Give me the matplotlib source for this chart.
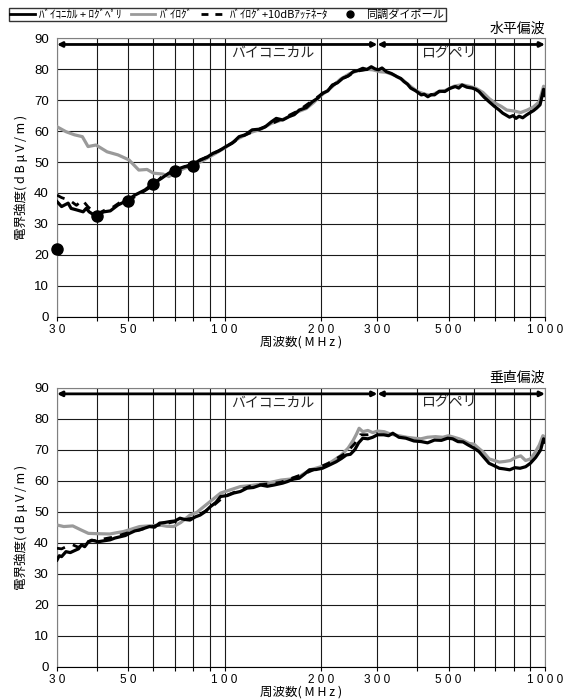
"""
電界強度の周波数特性グラフ (水平偏波 / 垂直偏波)
"""

import matplotlib

matplotlib.use("Agg")
import matplotlib.pyplot as plt
from matplotlib.lines import Line2D

plt.rcParams["font.family"] = ["Liberation Sans", "Noto Sans CJK JP", "DejaVu Sans"]

# ---- データ ----
# 水平偏波: バイコニカル + ログペリ
h_bl_f = [30, 31, 32.5, 33.2, 34.6, 36.2, 37, 37.8, 39.5, 42, 44, 46.5, 49.5, 52.5,
          56.5, 60, 63.5, 67, 70, 75, 79, 84, 88, 92, 96, 101, 106, 111, 116, 122,
          128, 134, 140, 145, 152, 159, 165, 171, 180, 188, 195, 202, 210, 217, 225,
          234, 243, 252, 261, 270, 278, 287, 295, 302, 310, 320, 332, 345, 355, 363,
          372, 381, 395, 411, 420, 431, 441, 452, 468, 487, 505, 525, 538, 551, 570,
          593, 607, 622, 645, 669, 695, 720, 738, 755, 775, 795, 812, 830, 852, 875,
          900, 920, 941, 965, 975, 990, 1000]
h_bl_v = [37.2, 35.6, 36.7, 35.0, 34.5, 33.9, 35.0, 33.9, 32.6, 33.9, 34.2, 36.1, 37.5,
          39.3, 41.0, 43.1, 44.7, 46.4, 47.4, 48.5, 49.0, 50.7, 51.5, 52.8, 53.6, 55.0,
          56.2, 58.2, 58.8, 60.4, 60.6, 61.4, 63.0, 64.1, 63.6, 64.7, 65.3, 66.8, 67.6,
          69.5, 70.6, 72.2, 73.0, 74.9, 75.6, 77.1, 77.8, 79.2, 79.6, 80.3, 79.9, 80.8,
          80.1, 79.8, 80.4, 79.2, 78.6, 77.6, 77.0, 76.0, 75.2, 73.9, 73.0, 71.7, 71.9,
          71.1, 71.8, 71.7, 72.9, 72.8, 73.8, 74.4, 73.9, 74.9, 74.2, 73.9, 73.5, 72.8,
          71.0, 69.5, 68.0, 66.8, 65.8, 65.2, 64.5, 65.0, 64.1, 64.8, 64.3, 65.2, 66.0,
          66.6, 67.4, 68.5, 70.5, 73.5, 71.5]

# 水平偏波: バイログ
h_gr_f = [30, 32, 34, 36, 37.5, 39.7, 43, 46.5, 50.3, 54, 57.3, 60, 64.3, 67, 70, 75,
          80, 85, 92, 100, 110, 120, 130, 140, 150, 160, 170, 180, 190, 200, 215, 230,
          245, 260, 275, 290, 305, 320, 340, 360, 380, 400, 420, 440, 460, 490, 520,
          550, 580, 610, 640, 670, 700, 730, 760, 800, 840, 880, 920, 960, 990, 1000]
h_gr_v = [61.4, 59.8, 58.8, 58.2, 55.0, 55.5, 53.3, 52.3, 50.7, 47.4, 47.6, 46.4, 46.1,
          45.3, 46.5, 48.0, 48.8, 50.3, 52.3, 54.5, 57.5, 59.5, 60.6, 62.5, 63.5, 64.8,
          66.3, 67.3, 69.3, 71.5, 74.0, 76.8, 78.5, 79.5, 80.0, 79.8, 79.2, 79.0, 78.0,
          76.5, 74.5, 72.8, 72.0, 71.5, 72.5, 73.2, 74.5, 75.0, 74.5, 73.8, 72.5, 70.5,
          69.0, 68.0, 66.8, 66.5, 66.0, 66.8, 67.8, 69.5, 74.5, 74.0]

# 水平偏波: バイログ+10dBアッテネータ
h_da_f = [30, 31, 33, 34.5, 36, 37.5, 39, 40.5, 43, 45, 48, 52, 56, 60, 64, 68, 72, 77,
          82, 90, 100, 115, 130, 150, 170, 200, 230, 260, 290]
h_da_v = [39.3, 38.5, 37.5, 36.0, 37.7, 35.5, 34.0, 33.5, 34.8, 35.5, 37.5, 38.5, 40.5,
          42.5, 45.5, 46.5, 47.8, 48.8, 50.0, 52.2, 54.6, 58.6, 60.8, 63.8, 66.6, 71.8,
          76.6, 79.4, 80.2]

# 水平偏波: 同調ダイポール
h_dp_f = [30, 40, 50, 60, 70, 80]
h_dp_v = [22.0, 32.5, 37.5, 43.0, 47.0, 48.6]

# 垂直偏波: バイコニカル + ログペリ
v_bl_f = [30, 30.5, 31, 32, 33, 34.3, 35, 35.8, 36.6, 37.6, 38.5, 40.3, 42, 43.9, 45.5,
          47.2, 49, 50.5, 52.5, 54.3, 56, 58.3, 60.5, 62.7, 65, 67.5, 70, 72.6, 75, 78,
          81, 83.9, 87, 90.3, 94, 97.2, 102, 106.7, 112, 117.6, 123, 129.5, 136, 142.7,
          151.7, 157, 164, 171, 178, 184, 193, 202, 212, 223, 232, 240, 247, 255, 262,
          270, 280, 290, 300, 314, 325, 335, 350, 368, 390, 411, 430, 452, 475, 497,
          515, 535, 555, 576, 600, 622, 645, 669, 695, 720, 745, 776, 805, 836, 870,
          900, 935, 969, 990, 1000]
v_bl_v = [34.4, 35.8, 35.5, 37.1, 36.8, 37.6, 38.0, 39.3, 38.7, 40.3, 40.8, 40.3, 40.6,
          40.9, 41.5, 41.9, 42.3, 43.0, 43.8, 44.1, 44.6, 45.2, 45.0, 46.3, 46.5, 46.8,
          47.0, 47.9, 47.5, 47.3, 48.3, 48.9, 50.0, 51.6, 53.0, 54.9, 55.2, 56.0, 56.5,
          57.6, 57.8, 58.6, 58.2, 58.6, 59.2, 59.7, 60.5, 60.8, 62.2, 63.5, 63.6, 64.0,
          65.0, 66.1, 67.2, 68.3, 68.5, 70.0, 72.2, 73.7, 73.5, 74.0, 74.8, 74.8, 74.5,
          75.3, 74.0, 73.7, 72.8, 72.6, 72.2, 73.1, 73.0, 73.7, 73.5, 72.6, 72.5, 71.5,
          70.5, 69.4, 67.5, 65.6, 64.8, 64.0, 63.8, 63.5, 64.2, 64.0, 64.5, 65.6, 67.5,
          69.9, 73.5, 72.5]

# 垂直偏波: バイログ
v_gr_f = [30, 31.5, 33.6, 35.5, 37.6, 40, 43.9, 46, 48.4, 51, 54.3, 58, 62.7, 66, 69.4,
          73, 78, 82, 86.1, 92, 97.2, 104, 112, 120, 128, 136, 150, 160, 172, 185, 200,
          215, 230, 243, 252, 258, 263, 270, 280, 290, 300, 315, 330, 350, 370, 390, 410,
          430, 455, 480, 500, 520, 540, 560, 580, 600, 620, 645, 670, 695, 720, 750, 780,
          810, 840, 870, 900, 930, 960, 985, 1000]
v_gr_v = [45.7, 45.2, 45.4, 44.2, 43.0, 42.9, 42.8, 43.2, 43.6, 44.3, 45.2, 45.4, 45.7,
          45.3, 45.2, 46.5, 48.9, 49.8, 51.6, 54.0, 56.0, 57.0, 58.1, 58.4, 58.8, 59.2,
          60.2, 60.5, 61.5, 63.5, 64.5, 66.0, 68.0, 70.5, 73.0, 75.0, 76.9, 75.8, 76.2,
          75.5, 76.0, 75.8, 75.0, 74.5, 74.0, 73.7, 73.5, 74.0, 74.2, 74.0, 74.5, 74.0,
          73.5, 72.8, 72.0, 71.8, 70.5, 69.0, 67.0, 66.5, 66.0, 66.2, 66.5, 67.5, 68.0,
          66.5, 67.0, 69.0, 71.5, 74.5, 74.0]

# 垂直偏波: バイログ+10dBアッテネータ
v_da_f = [30, 31, 32.5, 33.6, 35, 36.5, 38, 40, 45, 50, 60, 70, 80, 90, 100, 120, 150,
          180, 210, 240, 255, 265, 280, 300]
v_da_v = [38.2, 38.0, 39.0, 39.3, 38.5, 39.8, 40.5, 40.8, 41.8, 43.2, 45.3, 46.8, 48.0,
          51.0, 55.0, 58.2, 59.5, 62.5, 65.5, 69.0, 72.0, 74.8, 74.8, 75.2]

panels = [
    ("水平偏波", h_bl_f, h_bl_v, h_gr_f, h_gr_v, h_da_f, h_da_v, h_dp_f, h_dp_v),
    ("垂直偏波", v_bl_f, v_bl_v, v_gr_f, v_gr_v, v_da_f, v_da_v, None, None),
]

grid_ticks = [30, 40, 50, 60, 70, 80, 90, 100, 200, 300, 400, 500, 600, 700, 800, 900, 1000]
tick_text = {30: "3 0", 50: "5 0", 100: "1 0 0", 200: "2 0 0", 300: "3 0 0",
             500: "5 0 0", 1000: "1 0 0 0"}
y_ticks = [0, 10, 20, 30, 40, 50, 60, 70, 80, 90]

fig = plt.figure(figsize=(5.66, 7.0), dpi=100)
axes_pos = [[0.1007, 0.5476, 0.8622, 0.3977], [0.1007, 0.0476, 0.8622, 0.3986]]

for pos, (title, bf, bv, gf, gv, df, dv, pf, pv) in zip(axes_pos, panels):
    ax = fig.add_axes(pos)
    ax.set_xscale("log")
    ax.set_xlim(30, 1000)
    ax.set_ylim(0, 90)

    ax.plot(gf, gv, color="#9a9a9a", linewidth=2.3, zorder=3)
    ax.plot(bf, bv, color="black", linewidth=2.3, zorder=4)
    ax.plot(df, dv, color="black", linewidth=2.0, linestyle=(0, (3, 3)), zorder=5)
    if pf is not None:
        ax.plot(pf, pv, "o", color="black", markersize=8, zorder=6, clip_on=False)

    # 周波数範囲の矢印
    ax.annotate("", xy=(30, 88), xytext=(300, 88),
                arrowprops=dict(arrowstyle="<|-|>", lw=2, color="black",
                                mutation_scale=7, shrinkA=0, shrinkB=0))
    ax.annotate("", xy=(300, 88), xytext=(1000, 88),
                arrowprops=dict(arrowstyle="<|-|>", lw=2, color="black",
                                mutation_scale=7, shrinkA=0, shrinkB=0))
    ax.text(141, 85.3, "バイコニカル", ha="center", va="center", fontsize=10,
            family=["Noto Sans CJK JP"], color="#222222")
    ax.text(500, 85.3, "ログペリ", ha="center", va="center", fontsize=10,
            family=["Noto Sans CJK JP"], color="#222222")

    ax.set_xticks(grid_ticks)
    ax.set_xticklabels([tick_text.get(t, "") for t in grid_ticks], fontsize=8.5)
    ax.minorticks_off()
    ax.set_yticks(y_ticks)
    ax.tick_params(axis="y", length=0, labelsize=9.5, pad=6)
    ax.tick_params(axis="x", length=3, direction="out", pad=2)
    ax.grid(True, color="#1a1a1a", linewidth=0.8)
    ax.set_axisbelow(True)

    for side in ("left", "right", "top"):
        ax.spines[side].set_color("#808080")
    ax.spines["bottom"].set_color("black")

    ax.set_ylabel("電界強度( d B μ V / m )", fontsize=9, labelpad=4,
                  family=["Noto Sans CJK JP"])
    ax.set_xlabel("周波数( M H z )", fontsize=9, labelpad=0,
                  family=["Noto Sans CJK JP"])
    ax.text(1.0, 1.01, title, transform=ax.transAxes, ha="right", va="bottom",
            fontsize=10, family=["Noto Sans CJK JP"])

# 凡例
handles = [
    Line2D([], [], color="black", linewidth=2),
    Line2D([], [], color="#9a9a9a", linewidth=2),
    Line2D([], [], color="black", linewidth=2, linestyle=(0, (2.5, 2.5))),
    Line2D([], [], color="black", marker="o", linestyle="none", markersize=5),
]
labels = ["ﾊﾞｲｺﾆｶﾙ + ﾛｸﾞﾍﾟﾘ", "ﾊﾞｲﾛｸﾞ", "ﾊﾞｲﾛｸﾞ+10dBｱｯﾃﾈｰﾀ", "同調ダイポール"]
fig.legend(handles, labels, loc="upper left", bbox_to_anchor=(3 / 566, 1 - 2 / 700),
           ncol=4, frameon=True, fancybox=False, edgecolor="black",
           handlelength=2.2, handletextpad=0.4, columnspacing=0.8, borderpad=0.15,
           prop={"family": ["Noto Sans CJK JP"], "size": 8})

fig.savefig("out.png", dpi=100)
